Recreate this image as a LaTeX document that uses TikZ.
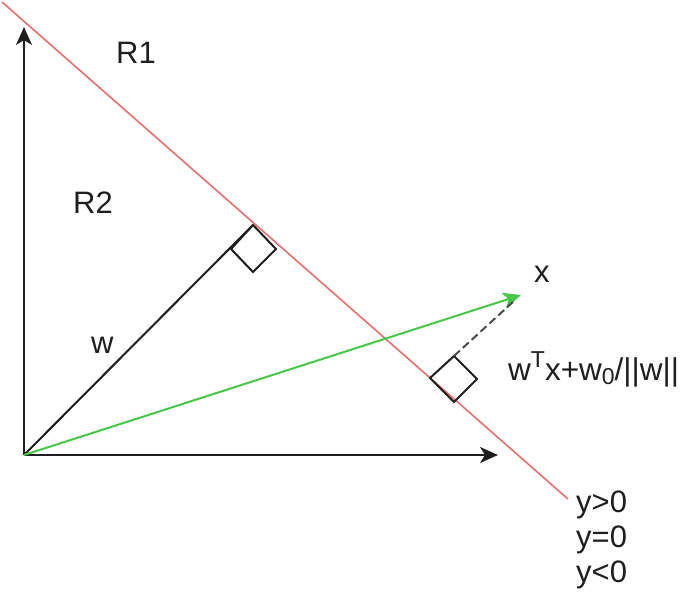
\documentclass[tikz,border=0pt]{standalone}
\usepackage{fontspec}
\setmainfont{Liberation Sans}
\usetikzlibrary{arrows.meta}
\definecolor{redline}{RGB}{232,110,108}
\definecolor{greenline}{RGB}{70,200,70}
\definecolor{ink}{RGB}{30,30,30}
\begin{document}
\begin{tikzpicture}[x=1pt,y=-1pt,
  tip/.style={-{Stealth[length=18pt,width=16pt,inset=5pt]}},
  axis/.style={line width=2pt, ink, tip},
  hyper/.style={line width=1.6pt, redline},
  vec/.style={line width=2pt, ink},
  gvec/.style={line width=2pt, greenline, tip},
  rbox/.style={line width=2pt, ink, line join=miter},
  dashline/.style={line width=2pt, ink!80, dash pattern=on 8pt off 4pt},
  lbl/.style={font=\fontsize{31}{35}\selectfont, inner sep=0pt, anchor=base west, text=ink}]
\useasboundingbox (0,0) rectangle (685,592);
% key points
\coordinate (O) at (24,455);
\coordinate (Ytip) at (24,27);
\coordinate (Xtip) at (498,455);
\coordinate (Rs) at (2,2);
\coordinate (Re) at (568,499);
\coordinate (F) at (253,225);
\coordinate (L1) at (231,249);
\coordinate (Rc1) at (276,249);
\coordinate (B1) at (253,272);
\coordinate (L2) at (430,378);
\coordinate (T2) at (454,356);
\coordinate (Rc2) at (477,379);
\coordinate (B2) at (454,402);
\coordinate (Gtip) at (521,295);
\coordinate (Dend) at (514,301);
% hyperplane
\draw[hyper] (Rs) -- (Re);
% axes
\draw[axis] (O) -- (Ytip);
\draw[axis] (O) -- (Xtip);
% w vector and right-angle box
\draw[vec] (O) -- (F);
\draw[rbox] (F) -- (Rc1) -- (B1) -- (L1) -- cycle;
% x vector
\draw[gvec] (O) -- (Gtip);
% projection
\draw[rbox] (L2) -- (T2) -- (Rc2) -- (B2) -- cycle;
\draw[dashline] (T2) -- (Dend);
% labels
\node[lbl] (r1) at (116,63) {R1};
\node[lbl] (r2) at (73,213) {R2};
\node[lbl] (wl) at (91,353) {w};
\node[lbl] (xl) at (534,282) {x};
\node[lbl, font=\fontsize{31.5}{35}\selectfont] (dist) at (508,380) {w\raisebox{13pt}{\fontsize{23}{23}\selectfont T}x+w\raisebox{-4pt}{\fontsize{23}{23}\selectfont 0}/||w||};
\node[lbl] (y1) at (576,512) {y>0};
\node[lbl] (y2) at (576,547) {y=0};
\node[lbl] (y3) at (576,582) {y<0};
\end{tikzpicture}
\end{document}
